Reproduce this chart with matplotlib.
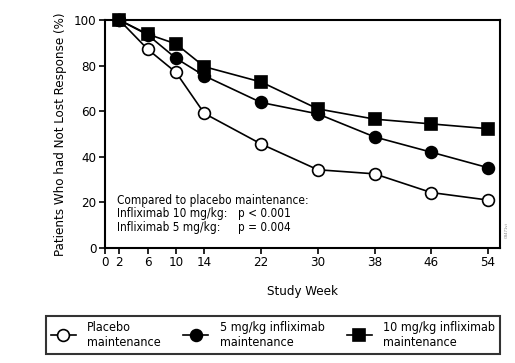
import matplotlib.pyplot as plt

# condensed DejaVu is the closest to the narrow sans of the original
plt.rcParams['font.family'] = ['DejaVu Sans']
plt.rcParams['font.stretch'] = 'condensed'

# Data
weeks = [2, 6, 10, 14, 22, 30, 38, 46, 54]
placebo = [100, 87.2, 77, 59, 45.6, 34.3, 32.5, 24.3, 21]
dose_5 = [100, 93.5, 83.2, 75.5, 63.8, 58.8, 48.7, 42, 35.2]
dose_10 = [100, 93.8, 89.5, 79.5, 72.8, 61, 56.5, 54.4, 52.3]
xticks = [0, 2, 6, 10, 14, 22, 30, 38, 46, 54]
yticks = [0, 20, 40, 60, 80, 100]

fig = plt.figure(figsize=(5.15, 3.63), dpi=100)
ax = fig.add_axes([0.204, 0.317, 0.767, 0.628])

common = dict(color='black', lw=1.2, markersize=8.5, markeredgewidth=1.2, clip_on=False)
l1, = ax.plot(weeks, placebo, marker='o', markerfacecolor='white', markeredgecolor='black',
              label='Placebo\nmaintenance', zorder=3, **common)
l2, = ax.plot(weeks, dose_5, marker='o', markerfacecolor='black', markeredgecolor='black',
              label='5 mg/kg infliximab\nmaintenance', zorder=4, **common)
l3, = ax.plot(weeks, dose_10, marker='s', markerfacecolor='black', markeredgecolor='black',
              label='10 mg/kg infliximab\nmaintenance', zorder=5, **common)

ax.set_xlim(0, 55.7)
ax.set_ylim(0, 100)
ax.set_xticks(xticks)
ax.set_yticks(yticks)
ax.tick_params(direction='out', length=4, width=1.2, labelsize=9.5, pad=2)
for s in ax.spines.values():
    s.set_linewidth(1.5)

ax.set_xlabel('Study Week', fontsize=9.5, labelpad=11)
ax.set_ylabel('Patients Who had Not Lost Response (%)', fontsize=9.5, labelpad=5)

fs = 8.5
ax.text(1.7, 21, 'Compared to placebo maintenance:', fontsize=fs, va='center')
ax.text(1.7, 15, 'Infliximab 10 mg/kg:', fontsize=fs, va='center')
ax.text(1.7, 9, 'Infliximab 5 mg/kg:', fontsize=fs, va='center')
ax.text(18.8, 15, 'p < 0.001', fontsize=fs, va='center')
ax.text(18.8, 9, 'p = 0.004', fontsize=fs, va='center')

ax.text(1.012, 0.05, 'G8471vt', transform=ax.transAxes, fontsize=3, rotation=90, color='gray')

leg = fig.legend(handles=[l1, l2, l3], loc='lower center', bbox_to_anchor=(0.53, 0.008),
                 ncol=3, fontsize=9, frameon=True, fancybox=False, edgecolor='black',
                 handlelength=2.0, columnspacing=1.8, borderpad=0.4, handletextpad=0.9)
leg.get_frame().set_linewidth(1.5)

fig.savefig('out.png', dpi=100)
